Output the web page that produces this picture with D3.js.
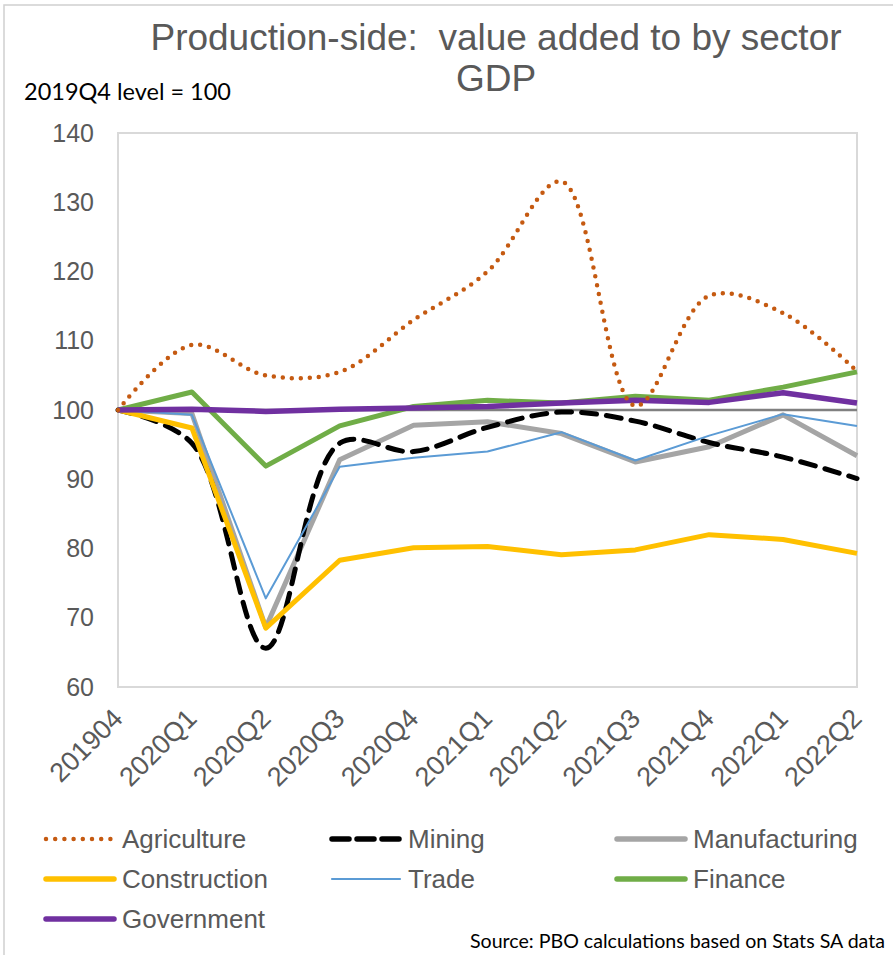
<!DOCTYPE html>
<html>
<head>
<meta charset="utf-8">
<script src="https://cdn.jsdelivr.net/npm/d3@7"></script>
<style>
  html, body { margin: 0; padding: 0; background: #fff; }
  svg { display: block; }
  .keep-spaces { white-space: pre; }
</style>
</head>
<body>
<svg id="chart" width="893" height="955"></svg>
<script>
// Quarterly index of real value added by sector (2019Q4 = 100)
const quarters = ["201904", "2020Q1", "2020Q2", "2020Q3", "2020Q4", "2021Q1",
                  "2021Q2", "2021Q3", "2021Q4", "2022Q1", "2022Q2"];
const agriculture   = [100, 109.4, 105.0, 105.5, 113.0, 120.0, 133.0, 100.6, 116.5, 114.0, 105.6];
const mining        = [100, 95.2, 65.6, 95.2, 94.0, 97.5, 99.7, 98.4, 95.3, 93.2, 90.1];
const manufacturing = [100, 99.5, 68.6, 92.8, 97.8, 98.3, 96.6, 92.5, 94.7, 99.3, 93.4];
const construction  = [100, 97.4, 68.5, 78.3, 80.1, 80.3, 79.1, 79.8, 82.0, 81.3, 79.3];
const trade         = [100, 99.3, 72.8, 91.8, 93.1, 94.0, 96.8, 92.7, 96.3, 99.4, 97.7];
const finance       = [100, 102.6, 91.9, 97.7, 100.5, 101.4, 101.0, 102.0, 101.4, 103.3, 105.5];
const government    = [100, 100.1, 99.8, 100.1, 100.3, 100.5, 101.0, 101.4, 101.1, 102.5, 101.0];
const baseline      = quarters.map(() => 100);
const yTicks = [60, 70, 80, 90, 100, 110, 120, 130, 140];

const svg = d3.select("#chart");
const plot = { left: 118, right: 857, top: 133, bottom: 687 };

const x = d3.scalePoint().domain(quarters).range([plot.left, plot.right]).padding(0);
const y = d3.scaleLinear().domain([60, 140]).range([plot.bottom, plot.top]);

// outer frame
svg.append("rect")
  .attr("x", 4).attr("y", 5).attr("width", 1000).attr("height", 1000)
  .attr("fill", "none").attr("stroke", "#d0d0d0").attr("stroke-width", 1.5);

// plot area frame
svg.append("rect")
  .attr("x", plot.left).attr("y", plot.top)
  .attr("width", plot.right - plot.left).attr("height", plot.bottom - plot.top)
  .attr("fill", "none").attr("stroke", "#d9d9d9").attr("stroke-width", 2);

// titles
const title = svg.append("text")
  .attr("class", "keep-spaces")
  .attr("text-anchor", "middle")
  .attr("font-family", "'Liberation Sans', Arial, sans-serif")
  .attr("font-size", 37).attr("fill", "#595959");
title.append("tspan").attr("x", 496).attr("y", 50).text("Production-side:  value added to by sector");
title.append("tspan").attr("x", 496).attr("y", 91).text("GDP");

svg.append("text")
  .attr("x", 24).attr("y", 100)
  .attr("font-family", "Lato, 'Open Sans', sans-serif")
  .attr("font-size", 23.5).attr("fill", "#000")
  .text("2019Q4 level = 100");

// y axis
const yAxis = svg.append("g")
  .attr("transform", `translate(${plot.left},0)`)
  .call(d3.axisLeft(y).tickValues(yTicks).tickSize(0).tickPadding(24).tickFormat(d3.format("d")));
yAxis.select(".domain").remove();
yAxis.selectAll("text")
  .attr("font-family", "'Liberation Sans', Arial, sans-serif")
  .attr("font-size", 25).attr("fill", "#595959");

// x axis with slanted quarter labels
const xAxis = svg.append("g")
  .attr("transform", `translate(0,${plot.bottom})`)
  .call(d3.axisBottom(x).tickSize(0).tickFormat(d => d));
xAxis.select(".domain").remove();
xAxis.selectAll("text")
  .attr("font-family", "'Liberation Sans', Arial, sans-serif")
  .attr("font-size", 27).attr("fill", "#595959")
  .attr("text-anchor", "end")
  .attr("dy", null).attr("y", null)
  .attr("transform", "translate(6,33) rotate(-45)");

const straight = d3.line().x((d, i) => x(quarters[i])).y(d => y(d));
const smooth = d3.line().x((d, i) => x(quarters[i])).y(d => y(d)).curve(d3.curveCatmullRom.alpha(0.5));

const series = [
  { name: "Baseline", values: baseline, color: "#808080", width: 2.5, gen: straight },
  { name: "Manufacturing", values: manufacturing, color: "#a5a5a5", width: 5, gen: straight },
  { name: "Mining", values: mining, color: "#000000", width: 5, gen: smooth, dash: "15,10", cap: "round" },
  { name: "Construction", values: construction, color: "#ffc000", width: 5, gen: straight },
  { name: "Trade", values: trade, color: "#5b9bd5", width: 2, gen: straight },
  { name: "Finance", values: finance, color: "#70ad47", width: 5, gen: straight },
  { name: "Government", values: government, color: "#7030a0", width: 5.5, gen: straight },
  { name: "Agriculture", values: agriculture, color: "#c55a11", width: 4.5, gen: smooth, dash: "0,9", cap: "round" }
];

svg.append("g").selectAll("path")
  .data(series).join("path")
  .attr("d", s => s.gen(s.values))
  .attr("fill", "none")
  .attr("stroke", s => s.color)
  .attr("stroke-width", s => s.width)
  .attr("stroke-linejoin", "round")
  .attr("stroke-linecap", s => s.cap || "butt")
  .attr("stroke-dasharray", s => s.dash || null);

// legend
const legendItems = [
  { name: "Agriculture", color: "#c55a11", width: 4.5, dash: "0,9.2", col: 0, row: 0 },
  { name: "Mining", color: "#000000", width: 5.5, dash: "17,8", col: 1, row: 0 },
  { name: "Manufacturing", color: "#a5a5a5", width: 5.5, col: 2, row: 0 },
  { name: "Construction", color: "#ffc000", width: 5.5, col: 0, row: 1 },
  { name: "Trade", color: "#5b9bd5", width: 2.2, col: 1, row: 1 },
  { name: "Finance", color: "#70ad47", width: 5.5, col: 2, row: 1 },
  { name: "Government", color: "#7030a0", width: 5.5, col: 0, row: 2 }
];
const colX = [46, 332, 617];
const rowY = [848, 888, 928];

const lg = svg.append("g").selectAll("g").data(legendItems).join("g")
  .attr("transform", d => `translate(${colX[d.col]},${rowY[d.row]})`);
lg.append("line")
  .attr("x1", 0).attr("x2", 68).attr("y1", -9).attr("y2", -9)
  .attr("stroke", d => d.color).attr("stroke-width", d => d.width)
  .attr("stroke-linecap", "round")
  .attr("stroke-dasharray", d => d.dash || null);
lg.append("text")
  .attr("x", 76).attr("y", 0)
  .attr("font-family", "'Liberation Sans', Arial, sans-serif")
  .attr("font-size", 26).attr("fill", "#595959")
  .text(d => d.name);

svg.append("text")
  .attr("x", 885).attr("y", 948).attr("text-anchor", "end")
  .attr("font-family", "Lato, 'Open Sans', sans-serif")
  .attr("font-size", 19.6).attr("fill", "#000")
  .text("Source: PBO calculations based on Stats SA data");
</script>
</body>
</html>
